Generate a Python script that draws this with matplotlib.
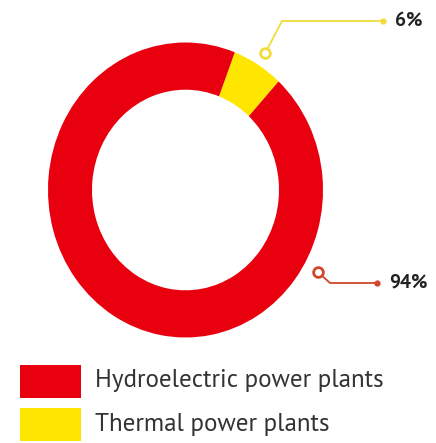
import numpy as np
import matplotlib
matplotlib.use("Agg")
import matplotlib.pyplot as plt

categories = ["Thermal power plants", "Hydroelectric power plants"]
shares = [6, 94]
colors = ["#ffe600", "#e8000f"]
line_colors = ["#f0dc3a", "#d2452c"]
legend_order = [1, 0]

FONT = ["PT Sans", "Open Sans", "DejaVu Sans"]

W, H = 436, 443
fig = plt.figure(figsize=(W / 100, H / 100), dpi=100)
fig.patch.set_facecolor("white")

# donut (slightly taller than wide)
cx, cy, RX, RY = 185.5, 190.0, 137.5, 147.5
ax = fig.add_axes([(cx - RX) / W, (H - cy - RY) / H, 2 * RX / W, 2 * RY / H])
ax.pie(shares, colors=colors, startangle=69, counterclock=False,
       radius=1.0, wedgeprops=dict(width=0.32, edgecolor="none"))
ax.set_xlim(-1, 1)
ax.set_ylim(-1, 1)
ax.set_aspect("auto")
ax.axis("off")

# overlay in pixel coordinates for callouts and legend
ov = fig.add_axes([0, 0, 1, 1])
ov.set_xlim(0, W)
ov.set_ylim(H, 0)
ov.axis("off")

# callouts: (angle from top clockwise, radial factor, elbow, line end, text x, text y)
callouts = [
    (32.0, 1.094, (282, 21), (383, 21), 395, 21),
    (120.0, 1.113, (330, 283), (377, 283), 389, 283),
]
for (ang, r, elbow, end, tx, ty), val, lc in zip(callouts, shares, line_colors):
    a = np.radians(ang)
    px, py = cx + RX * r * np.sin(a), cy - RY * r * np.cos(a)
    ov.plot([px, elbow[0], end[0]], [py, elbow[1], end[1]], color=lc, lw=1.3,
            solid_capstyle="round", zorder=2)
    ov.plot(px, py, "o", ms=7, mfc="white", mec=lc, mew=2, zorder=3)
    ov.plot(end[0], end[1], "o", ms=3.5, color=lc, zorder=3)
    ov.text(tx, ty, f"{val}%", fontsize=14, fontweight="bold", color="#222222",
            va="center", ha="left", family=FONT)

# legend
rows_y = [381, 424]
for idx, y in zip(legend_order, rows_y):
    ov.add_patch(plt.Rectangle((20, y - 16.5), 61, 33, color=colors[idx], lw=0))
    ov.text(95, y, categories[idx], fontsize=18, color="#333333", va="center",
            ha="left", family=FONT)

fig.savefig("out.png", dpi=100, facecolor="white")
